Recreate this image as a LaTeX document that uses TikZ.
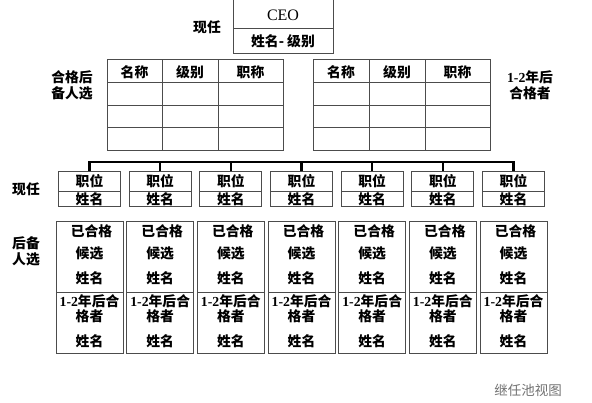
\documentclass[tikz,border=0pt]{standalone}
\usepackage{fontspec}
\setmainfont{Liberation Serif}
\newfontfamily\cjk{Noto Sans CJK SC}
\newcommand\zhb{\cjk\bfseries}
\begin{document}
\begin{tikzpicture}[x=1pt,y=-1pt,
  frame/.style={draw=black!70, line width=0.8pt},
  bus/.style={draw=black, line width=2.6pt},
  zh/.style={font=\zhb\fontsize{13.8}{16}\selectfont, inner sep=0, align=center},
  mix/.style={font=\bfseries\fontsize{13.8}{16}\selectfont, inner sep=0, align=center},
  cell/.style={frame, inner sep=0, minimum width=62pt, minimum height=35pt},
  tall/.style={frame, inner sep=0, minimum width=67pt, minimum height=132pt}]
\useasboundingbox (0,0) rectangle (592,402);
\fill[white] (0,0) rectangle (592,402);
% CEO box
\draw[frame] (233,0) -- (233,53) -- (333,53) -- (333,0);
\draw[frame] (233,28) -- (333,28);
\node[font=\fontsize{16}{18}\selectfont, inner sep=0] (ceo) at (283,15) {CEO};
\node[zh] (ceoname) at (283,41) {姓名- 级别};
\node[zh] (lblnow) at (207,27) {现任};
% tables
\foreach \xa/\xb/\xc/\xd/\t in {107/162/218/283/L, 313/369/425/490/R} {
  \draw[frame] (\xa,59) rectangle (\xd,150);
  \foreach \yy in {82,105,127} \draw[frame] (\xa,\yy) -- (\xd,\yy);
  \draw[frame] (\xb,59) -- (\xb,150);
  \draw[frame] (\xc,59) -- (\xc,150);
  \node[zh] (h1\t) at ({(\xa+\xb)/2},72) {名称};
  \node[zh] (h2\t) at ({(\xb+\xc)/2},72) {级别};
  \node[zh] (h3\t) at ({(\xc+\xd)/2},72) {职称};
}
\node[zh] (lblleft) at (72,85) {合格后\\备人选};
\node[mix] (lblright) at (530,85) {1-2{\zhb 年后}\\{\zhb 合格者}};
% labels left
\node[zh] (lblcur) at (26,189) {现任};
\node[zh] (lblback) at (26,251) {后备\\人选};
% boxes
\coordinate (bl) at (89.5,162);
\foreach \k in {0,...,6} {
  \pgfmathsetmacro\cx{89.5+70.67*\k}
  \node[cell] (p\k) at (\cx,188.5) {};
  \draw[frame] ({\cx-31},191) -- ({\cx+31},191);
  \node[zh] (pa\k) at (\cx,181) {职位};
  \node[zh] (pb\k) at (\cx,199) {姓名};
  \node[tall] (q\k) at (\cx,287) {};
  \draw[frame] ({\cx-33.5},292) -- ({\cx+33.5},292);
  \node[zh] (qa\k) at ({\cx+2},231) {已合格};
  \node[zh] (qb\k) at (\cx,253) {候选};
  \node[zh] (qc\k) at (\cx,278) {姓名};
  \node[mix] (qd\k) at (\cx,301) {1-2{\zhb 年后合}};
  \node[zh] (qe\k) at (\cx,316) {格者};
  \node[zh] (qf\k) at (\cx,341) {姓名};
  \draw[bus] (p\k.north |- bl) -- (p\k.north);
}
\draw[bus, line cap=rect] (p0.north |- bl) -- (p6.north |- bl);
\node[font=\cjk\fontsize{13.5}{15}\selectfont, text=black!55, inner sep=0] (foot) at (528,390) {继任池视图};
\end{tikzpicture}
\end{document}
